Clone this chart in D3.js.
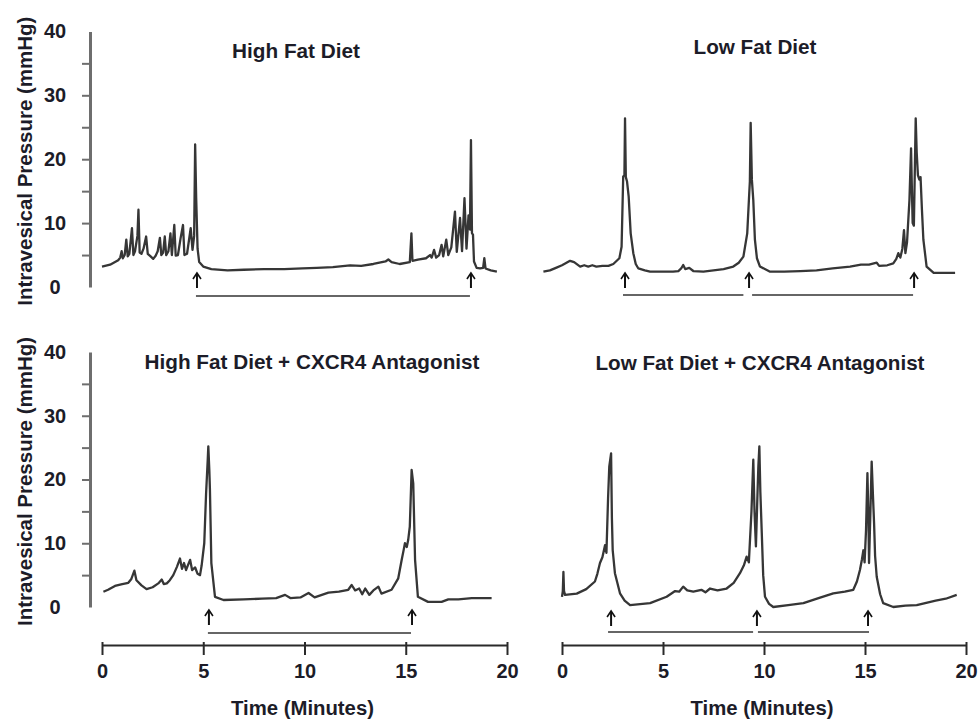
<!DOCTYPE html>
<html>
<head>
<meta charset="utf-8">
<script src="https://cdn.jsdelivr.net/npm/d3@7"></script>
<style>
  body { margin: 0; background: #fff; }
  svg { display: block; }
  text { font-family: "Liberation Sans", Arial, sans-serif; font-weight: bold; fill: #1c1c28; }
</style>
</head>
<body>
<div id="chart"></div>
<script>
// pressure traces, [time (min), pressure (mmHg)]
const highFat = [[0,3.2],[0.4,3.5],[0.8,4.2],[0.9,4.6],[0.97,5.6],[1.03,4.5],[1.12,5.0],[1.2,7.4],[1.27,4.8],[1.35,5.2],[1.48,9.2],[1.55,5.0],[1.63,5.6],[1.75,8.0],[1.8,12.1],[1.86,5.4],[1.95,5.2],[2.05,6.0],[2.18,7.9],[2.26,5.2],[2.4,4.8],[2.53,4.4],[2.65,4.9],[2.75,5.6],[2.86,7.7],[2.93,5.0],[3.02,5.4],[3.1,7.9],[3.17,5.0],[3.28,5.6],[3.38,8.4],[3.45,5.0],[3.57,9.7],[3.64,4.9],[3.75,5.0],[3.88,7.6],[4.0,9.7],[4.07,5.0],[4.2,5.2],[4.38,9.2],[4.47,5.8],[4.55,8.0],[4.6,22.3],[4.65,14],[4.72,6.0],[4.8,3.9],[5.0,3.2],[5.4,2.8],[6.2,2.6],[7.0,2.7],[8.0,2.8],[9.0,2.8],[9.9,2.9],[10.6,3.0],[11.4,3.1],[12.25,3.4],[12.8,3.3],[13.4,3.6],[14.0,4.0],[14.14,4.3],[14.3,3.9],[14.7,3.6],[15.2,3.9],[15.28,8.4],[15.33,4.1],[15.6,4.3],[16.0,4.5],[16.2,5.0],[16.28,4.6],[16.4,5.8],[16.5,4.6],[16.65,5.0],[16.77,6.6],[16.85,4.8],[17.0,7.4],[17.1,5.0],[17.25,6.2],[17.43,11.8],[17.52,5.5],[17.68,10.8],[17.78,5.6],[17.9,13.9],[18.0,6.0],[18.1,11.2],[18.17,9],[18.22,23.0],[18.27,8.4],[18.32,8.2],[18.37,4.0],[18.5,3.0],[18.67,2.9],[18.82,3.0],[18.88,4.5],[18.94,2.9],[19.2,2.6],[19.5,2.4]];

const lowFat = [[-0.92,2.4],[-0.6,2.6],[-0.3,3.0],[0,3.4],[0.4,4.1],[0.6,3.9],[0.9,3.2],[1.1,3.4],[1.3,3.2],[1.5,3.4],[1.7,3.2],[2.0,3.3],[2.3,3.3],[2.54,3.6],[2.84,4.5],[2.95,6.3],[3.03,17.3],[3.09,17.5],[3.12,26.4],[3.16,17.2],[3.22,16.5],[3.3,14.2],[3.4,8.4],[3.53,5.3],[3.65,3.6],[3.78,2.9],[4.1,2.6],[4.36,2.4],[5.0,2.4],[5.5,2.4],[5.76,2.5],[5.9,2.9],[6.0,3.45],[6.1,2.8],[6.3,3.0],[6.5,2.5],[7.0,2.4],[7.5,2.6],[8.0,2.8],[8.48,3.2],[8.75,3.8],[8.98,4.75],[9.17,8.4],[9.27,14.7],[9.3,16.5],[9.34,25.7],[9.4,16.8],[9.47,13.6],[9.55,7.4],[9.65,4.5],[9.8,3.2],[10.3,2.4],[11.0,2.4],[11.8,2.5],[12.6,2.6],[13.4,2.9],[14.26,3.2],[14.8,3.5],[15.2,3.5],[15.58,3.8],[15.7,3.3],[16.1,3.4],[16.4,3.7],[16.55,4.4],[16.65,5.3],[16.75,4.6],[16.85,6.0],[16.93,8.9],[17.0,5.3],[17.08,7.0],[17.2,13.6],[17.28,21.7],[17.33,14],[17.36,10.0],[17.42,9.6],[17.51,26.4],[17.56,21],[17.62,17.5],[17.69,16.8],[17.75,17.2],[17.82,12],[17.89,7.4],[18.05,3.2],[18.4,2.2],[19.0,2.2],[19.46,2.2]];

const highFatCxcr4 = [[0.07,2.4],[0.3,2.7],[0.64,3.3],[1.0,3.6],[1.3,3.8],[1.45,4.4],[1.6,5.7],[1.7,4.2],[1.95,3.4],[2.2,2.8],[2.5,3.1],[2.78,3.7],[2.95,4.3],[3.05,3.6],[3.2,3.7],[3.35,4.2],[3.52,5.0],[3.7,6.3],[3.85,7.6],[3.95,6.0],[4.05,6.9],[4.15,5.8],[4.25,6.6],[4.35,7.4],[4.45,5.8],[4.6,6.2],[4.72,5.2],[4.84,5.0],[4.92,6.5],[5.05,10],[5.14,17.8],[5.22,23.0],[5.25,25.2],[5.3,21.5],[5.33,18.4],[5.4,6.9],[5.58,1.6],[6.0,1.1],[7.0,1.2],[7.9,1.3],[8.6,1.4],[9.04,1.9],[9.3,1.4],[9.8,1.5],[10.2,2.2],[10.5,1.5],[11.18,2.25],[11.7,2.4],[12.16,2.7],[12.33,3.45],[12.5,2.6],[12.7,2.9],[12.85,2.0],[13.0,2.9],[13.2,1.9],[13.4,2.6],[13.65,3.2],[13.8,2.1],[14.3,2.7],[14.63,4.5],[14.8,7.4],[14.9,9.0],[14.96,10],[15.05,9.4],[15.12,10.5],[15.2,12.6],[15.29,21.5],[15.37,19.4],[15.46,7.4],[15.6,1.6],[16.1,0.8],[16.77,0.8],[17.1,1.2],[17.6,1.2],[18.26,1.4],[19.24,1.4]];

const lowFatCxcr4 = [[0,1.6],[0.04,2.5],[0.07,5.5],[0.1,2.5],[0.15,1.9],[0.73,2.1],[1.2,2.8],[1.63,4.0],[1.75,5.2],[1.88,6.9],[2.0,7.8],[2.13,9.7],[2.2,8.5],[2.28,17],[2.34,22],[2.43,24.1],[2.47,14],[2.51,8.9],[2.62,5.3],[2.87,2.15],[3.1,1.0],[3.37,0.3],[4.36,0.6],[5.18,1.6],[5.6,2.5],[5.8,2.4],[6.0,3.2],[6.2,2.6],[6.5,2.4],[6.9,2.7],[7.1,2.3],[7.33,2.9],[7.7,2.6],[8.15,2.9],[8.5,3.8],[8.81,5.3],[9.0,6.5],[9.14,7.9],[9.25,7.0],[9.38,15],[9.47,23.1],[9.53,15],[9.6,9.5],[9.68,18],[9.72,22],[9.77,25.2],[9.82,18],[9.89,11.6],[9.96,5],[10.05,1.6],[10.25,0.5],[10.46,0.0],[11.2,0.3],[11.95,0.6],[12.7,1.4],[13.43,2.15],[14.0,2.4],[14.42,2.7],[14.6,4.0],[14.75,5.8],[14.85,7.5],[14.92,8.9],[14.98,7.0],[15.05,12],[15.12,21],[15.17,14],[15.2,6.9],[15.26,14],[15.33,22.8],[15.4,17],[15.45,13.1],[15.5,8],[15.58,4.75],[15.75,2],[15.9,0.6],[16.4,0.0],[17.0,0.2],[17.56,0.3],[18.5,1.0],[19.0,1.3],[19.54,1.9]];

// voiding markers (arrows) and the intervals between them
const arrowsHighFat = [4.69, 18.22];
const arrowsLowFat = [3.12, 9.26, 17.43];
const arrowsHighFatCxcr4 = [5.28, 15.31];
const arrowsLowFatCxcr4 = [2.43, 9.65, 15.15];
const spansHighFat = [[4.64, 18.17]];
const spansLowFat = [[3.02, 8.98], [9.41, 17.38]];
const spansHighFatCxcr4 = [[5.23, 15.26]];
const spansLowFatCxcr4 = [[2.28, 9.46], [9.7, 15.2]];

const titles = ["High Fat Diet", "Low Fat Diet", "High Fat Diet + CXCR4 Antagonist", "Low Fat Diet + CXCR4 Antagonist"];
const yTicks = [0, 5, 10, 15, 20, 25, 30, 35, 40];
const xTicks = [0, 5, 10, 15, 20];

const width = 978, height = 721;
const svg = d3.select("#chart").append("svg").attr("width", width).attr("height", height);

const xLeft = d3.scaleLinear().domain([0, 20]).range([102, 507]);
const xRight = d3.scaleLinear().domain([0, 20]).range([562, 966]);
const yTop = d3.scaleLinear().domain([0, 40]).range([287, 31.4]);
const yBottom = d3.scaleLinear().domain([0, 40]).range([607, 352]);

const panels = [
    { data: highFat, arrows: arrowsHighFat, spans: spansHighFat, title: titles[0], x: xLeft, y: yTop, titleX: 296, titleY: 58, titleW: 128, arrowTop: 273, spanY: 296 },
    { data: lowFat, arrows: arrowsLowFat, spans: spansLowFat, title: titles[1], x: xRight, y: yTop, titleX: 755, titleY: 54, titleW: 123, arrowTop: 273, spanY: 295 },
    { data: highFatCxcr4, arrows: arrowsHighFatCxcr4, spans: spansHighFatCxcr4, title: titles[2], x: xLeft, y: yBottom, titleX: 312, titleY: 369, titleW: 335, arrowTop: 610, spanY: 633 },
    { data: lowFatCxcr4, arrows: arrowsLowFatCxcr4, spans: spansLowFatCxcr4, title: titles[3], x: xRight, y: yBottom, titleX: 760, titleY: 370, titleW: 329, arrowTop: 611, spanY: 632 }
];

panels.forEach(p => {
    const line = d3.line().x(d => p.x(d[0])).y(d => p.y(d[1]));
    svg.append("path").datum(p.data)
        .attr("fill", "none").attr("stroke", "#363636").attr("stroke-width", 2.3)
        .attr("stroke-linejoin", "round").attr("d", line);

    svg.append("text").attr("x", p.titleX).attr("y", p.titleY).attr("text-anchor", "middle")
        .attr("font-size", 21).attr("textLength", p.titleW).attr("lengthAdjust", "spacingAndGlyphs")
        .text(p.title);

    // arrows pointing up at each void
    const g = svg.append("g");
    p.arrows.forEach(t => {
        const ax = p.x(t);
        g.append("line").attr("x1", ax).attr("x2", ax).attr("y1", p.arrowTop + 1).attr("y2", p.arrowTop + 15)
            .attr("stroke", "#111").attr("stroke-width", 2);
        g.append("path").attr("d", `M${ax - 4},${p.arrowTop + 6}L${ax},${p.arrowTop}L${ax + 4},${p.arrowTop + 6}`)
            .attr("fill", "none").attr("stroke", "#111").attr("stroke-width", 1.6);
    });
    p.spans.forEach(s => {
        g.append("line").attr("x1", p.x(s[0])).attr("x2", p.x(s[1])).attr("y1", p.spanY).attr("y2", p.spanY)
            .attr("stroke", "#333").attr("stroke-width", 1.3);
    });
});

// y axes on the left panels
[yTop, yBottom].forEach(y => {
    const ax = svg.append("g").attr("transform", "translate(90,0)")
        .call(d3.axisLeft(y).tickValues(yTicks).tickSize(8).tickSizeOuter(0)
            .tickFormat(d => d % 10 === 0 ? d : ""));
    ax.select(".domain").attr("stroke", "#6e6e6e").attr("stroke-width", 3);
    ax.selectAll(".tick line").attr("stroke", "#6e6e6e").attr("stroke-width", 2)
        .attr("display", d => (d === 0 || d === 40) ? "none" : null);
    ax.selectAll(".tick text").attr("x", -35).attr("text-anchor", "middle")
        .attr("font-size", 20).attr("font-family", null).attr("fill", "#1c1c28");
    const mid = (y.range()[0] + y.range()[1]) / 2 + 2;
    svg.append("text").attr("transform", `translate(32,${mid}) rotate(-90)`).attr("text-anchor", "middle")
        .attr("font-size", 20).attr("textLength", 289).attr("lengthAdjust", "spacingAndGlyphs")
        .text("Intravesical Pressure (mmHg)");
});

// time axes under the bottom panels
[xLeft, xRight].forEach(x => {
    const ax = svg.append("g").attr("transform", "translate(0,645)")
        .call(d3.axisBottom(x).tickValues(xTicks).tickSize(10).tickSizeOuter(0).tickPadding(9));
    ax.select(".domain").attr("stroke", "#2a2a2a").attr("stroke-width", 2);
    ax.selectAll(".tick line").attr("stroke", "#2a2a2a").attr("stroke-width", 2).attr("y1", -3);
    ax.selectAll(".tick text").attr("font-size", 20).attr("font-family", null).attr("fill", "#1c1c28");
    const mid = (x.range()[0] + x.range()[1]) / 2 - 2;
    svg.append("text").attr("x", mid).attr("y", 715).attr("text-anchor", "middle")
        .attr("font-size", 20).attr("textLength", 143).attr("lengthAdjust", "spacingAndGlyphs")
        .text("Time (Minutes)");
});
</script>
</body>
</html>
